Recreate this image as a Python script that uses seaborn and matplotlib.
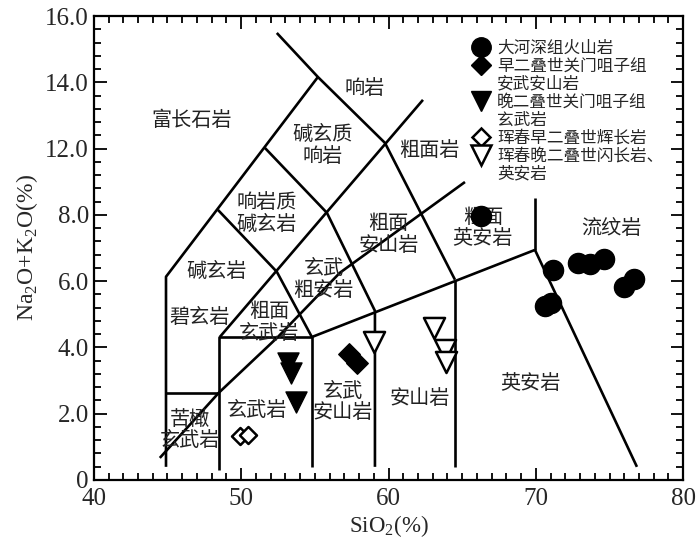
import matplotlib
matplotlib.use("Agg")
import matplotlib.pyplot as plt
import seaborn as sns
import pandas as pd
from matplotlib.lines import Line2D
from matplotlib.ticker import MultipleLocator

# 坐标轴刻度(纵轴原图缺少 10.0 标注, 刻度等间距)
x_ticks = [40, 50, 60, 70, 80]
y_ticks = [0, 2, 4, 6, 8, 10, 12, 14]
y_tick_labels = ["0", "2.0", "4.0", "6.0", "8.0", "12.0", "14.0", "16.0"]

# TAS 分区界线 (SiO2, Na2O+K2O)
line_x = [
    [44.9, 44.9, 55.21],
    [52.42, 55.21, 59.76, 64.51],
    [64.51, 64.51],
    [54.80, 69.94],
    [69.94, 69.94],
    [69.94, 76.86],
    [48.42, 52.42, 54.80],
    [51.61, 55.82, 59.08, 59.08],
    [48.55, 62.34],
    [44.48, 48.49, 52.49, 56.7, 65.19],
    [44.9, 48.49],
    [48.49, 48.49, 54.80, 54.80],
]
line_y = [
    [0.39, 6.13, 12.16],
    [13.49, 12.16, 10.17, 6.04],
    [6.04, 0.39],
    [4.31, 6.94],
    [6.94, 8.51],
    [6.94, 0.39],
    [8.15, 6.28, 4.31],
    [10.02, 8.06, 5.10, 0.39],
    [4.31, 11.47],
    [0.66, 2.63, 4.31, 6.25, 8.99],
    [2.63, 2.63],
    [0.30, 4.31, 4.31, 0.39],
]

# 分区名称
rock_names = ["响岩", "富长石岩", "碱玄质\n响岩", "粗面岩", "响岩质\n碱玄岩",
              "粗面\n安山岩", "玄武\n粗安岩", "碱玄岩", "碧玄岩", "粗面\n玄武岩",
              "苦橄\n玄武岩", "玄武岩", "玄武\n安山岩", "安山岩", "英安岩",
              "流纹岩", "粗面\n英安岩"]
name_x = [58.4, 46.65, 55.5, 62.74, 51.74, 60.0, 55.6, 48.3, 47.2, 51.9,
          46.5, 51.1, 56.9, 62.1, 69.6, 75.1, 66.4]
name_y = [11.8, 10.85, 10.1, 9.95, 8.05, 7.4, 6.05, 6.3, 4.9, 4.75,
          1.5, 2.1, 2.35, 2.45, 2.92, 7.6, 7.6]

# 样品数据
circle_x = [66.27, 71.16, 72.86, 73.67, 74.62, 75.98, 76.66, 70.62, 71.02]
circle_y = [7.97, 6.34, 6.55, 6.52, 6.67, 5.82, 6.07, 5.25, 5.34]
diamond_x = [57.31, 57.85]
diamond_y = [3.80, 3.53]
tri_x = [53.17, 53.37, 53.71]
tri_y = [3.53, 3.23, 2.35]
odiamond_x = [49.91, 50.45]
odiamond_y = [1.33, 1.36]
otri_x = [59.01, 63.08, 63.83, 63.90]
otri_y = [4.16, 4.59, 3.92, 3.56]

sns.set_style("ticks")
plt.rcParams["font.family"] = ["Liberation Serif", "Noto Sans CJK SC"]
plt.rcParams["mathtext.fontset"] = "custom"
plt.rcParams["mathtext.rm"] = "Liberation Serif"

fig = plt.figure(figsize=(7, 5.54), dpi=100)
ax = fig.add_axes([0.134, 0.134, 0.842, 0.837])

for xs, ys in zip(line_x, line_y):
    ax.plot(xs, ys, color="black", lw=1.9, solid_capstyle="butt", zorder=2)

for name, tx, ty in zip(rock_names, name_x, name_y):
    ax.text(tx, ty, name, ha="center", va="center", fontsize=14.5,
            family=["Noto Sans CJK SC"], color="#222222", linespacing=1.05, zorder=3)

groups = [
    (circle_x, circle_y, "o", "black", 210, 1.0),
    (diamond_x, diamond_y, "D", "black", 120, 1.0),
    (tri_x, tri_y, "v", "black", 230, 1.0),
    (odiamond_x, odiamond_y, "D", "white", 75, 1.8),
    (otri_x, otri_y, "v", "white", 230, 1.8),
]
for gx, gy, mk, fc, size, lw in groups:
    df = pd.DataFrame({"SiO2": gx, "ALK": gy})
    sns.scatterplot(data=df, x="SiO2", y="ALK", marker=mk, s=size,
                    color=fc, edgecolor="black", linewidth=lw, ax=ax, zorder=4)

# 图例 (多行标签用无标记的续行)
legend_labels = ["大河深组火山岩", "早二叠世关门咀子组", "安武安山岩",
                 "晚二叠世关门咀子组", "玄武岩", "珲春早二叠世辉长岩",
                 "珲春晚二叠世闪长岩、", "英安岩"]
legend_markers = ["o", "D", "", "v", "", "D", "v", ""]
legend_fill = ["black", "black", "none", "black", "none", "white", "white", "none"]
legend_size = [14, 10.5, 0, 15, 0, 9, 15, 0]
handles = [Line2D([], [], ls="", marker=m, markersize=ms, markerfacecolor=f,
                  markeredgecolor="black", markeredgewidth=1.8 if f == "white" else 1)
           for m, f, ms in zip(legend_markers, legend_fill, legend_size)]
ax.legend(handles, legend_labels, loc="upper left", bbox_to_anchor=(0.625, 0.968),
          frameon=False, fontsize=12, handlelength=1.0, handletextpad=0.5,
          labelspacing=0.12, borderaxespad=0.2)

ax.set_xlim(40, 80)
ax.set_ylim(0, 14)
ax.set_xticks(x_ticks)
ax.set_xticklabels([str(t) for t in x_ticks])
ax.set_yticks(y_ticks)
ax.set_yticklabels(y_tick_labels)
ax.xaxis.set_minor_locator(MultipleLocator(1))
ax.yaxis.set_minor_locator(MultipleLocator(0.4))
ax.tick_params(which="both", direction="in", top=True, right=True, labelsize=18,
               width=1.3, color="black")
ax.tick_params(axis="x", which="major", pad=6)
ax.tick_params(which="major", length=9)
ax.tick_params(which="minor", length=5)
for sp in ax.spines.values():
    sp.set_linewidth(1.6)
    sp.set_color("black")

ax.set_xlabel(r"SiO$_\mathregular{2}$(%)", fontsize=16.5, labelpad=2)
ax.set_ylabel(r"Na$_\mathregular{2}$O+K$_\mathregular{2}$O(%)", fontsize=17, labelpad=4)

plt.savefig("out.png", dpi=100)
